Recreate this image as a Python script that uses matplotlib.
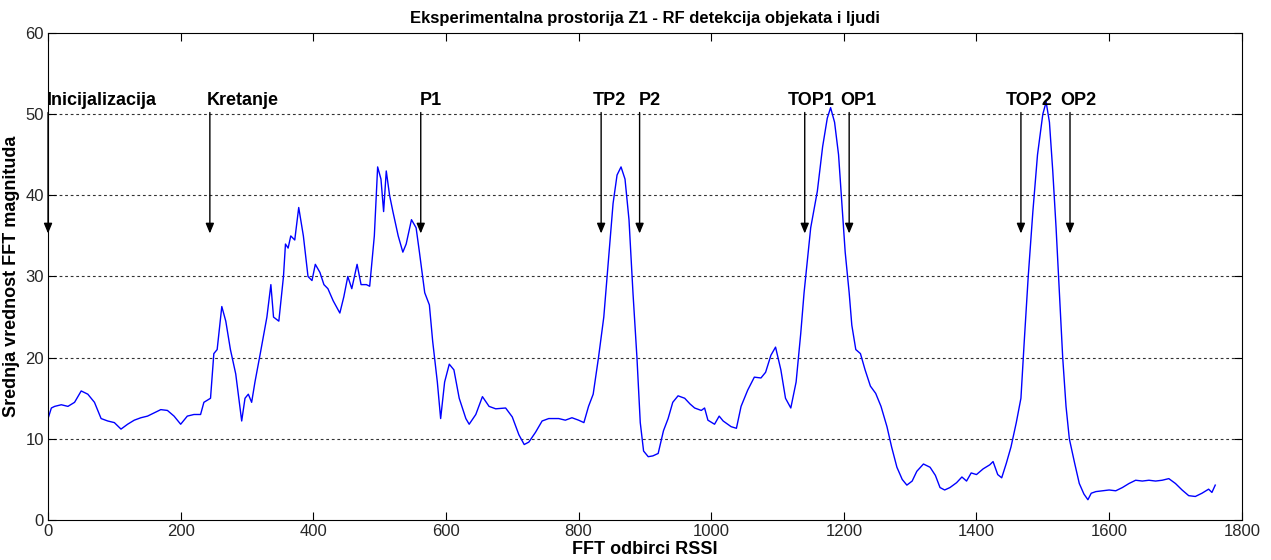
import matplotlib
matplotlib.use("Agg")
import matplotlib.pyplot as plt

# averaged FFT magnitude over RSSI sample index
sample_idx = [
    0, 5, 10, 20, 30, 40, 50, 60, 70, 80, 90, 100, 110, 120, 130, 140, 150, 160,
    170, 180, 190, 200, 210, 220, 230, 235, 245, 250, 255, 262, 268, 275, 283,
    292, 297, 302, 307, 312, 320, 330, 336, 340, 348, 355, 358, 362, 366, 372,
    378, 385, 392, 398, 403, 410, 416, 422, 430, 440, 446, 452, 458, 466, 472,
    480, 485, 492, 497, 502, 506, 510, 515, 520, 528, 535, 540, 548, 555, 560,
    568, 575, 580, 587, 592, 598, 605, 612, 620, 630, 635, 645, 655, 665, 675,
    690, 700, 710, 718, 725, 735, 745, 755, 770, 780, 790, 800, 808, 815, 822,
    830, 838, 845, 852, 858, 864, 870, 876, 882, 888, 893, 898, 905, 912, 920,
    928, 935, 942, 950, 960, 968, 975, 985, 990, 995, 1005, 1012, 1018, 1030,
    1038, 1045, 1055, 1065, 1075, 1082, 1090, 1097, 1105, 1112, 1120, 1128,
    1135, 1140, 1145, 1150, 1160, 1168, 1175, 1180, 1186, 1192, 1197, 1202,
    1208, 1212, 1218, 1225, 1232, 1240, 1248, 1256, 1265, 1272, 1280, 1288,
    1295, 1303, 1310, 1320, 1330, 1338, 1345, 1352, 1360, 1370, 1378, 1385,
    1392, 1400, 1410, 1420, 1425, 1432, 1438, 1445, 1452, 1460, 1467, 1472,
    1478, 1485, 1492, 1500, 1505, 1510, 1515, 1520, 1525, 1530, 1535, 1540,
    1548, 1555, 1562, 1568, 1573, 1580, 1590, 1600, 1610, 1620, 1630, 1640,
    1650, 1660, 1670, 1680, 1690, 1700, 1710, 1720, 1730, 1740, 1750, 1755, 1760,
]
magnitude = [
    12.5, 13.8, 14.0, 14.2, 14.0, 14.5, 15.9, 15.5, 14.5, 12.5, 12.2, 12.0, 11.2,
    11.8, 12.3, 12.6, 12.8, 13.2, 13.6, 13.5, 12.8, 11.8, 12.8, 13.0, 13.0, 14.5,
    15.0, 20.5, 21.0, 26.3, 24.5, 21.0, 18.0, 12.2, 15.0, 15.5, 14.5, 17.0, 20.5,
    25.0, 29.0, 25.0, 24.5, 30.0, 34.0, 33.5, 35.0, 34.5, 38.5, 35.0, 30.0, 29.5,
    31.5, 30.5, 29.0, 28.5, 27.0, 25.5, 27.5, 30.0, 28.5, 31.5, 29.0, 29.0, 28.8,
    35.0, 43.5, 42.0, 38.0, 43.0, 40.0, 38.0, 35.0, 33.0, 34.0, 37.0, 36.0, 33.0,
    28.0, 26.5, 22.0, 17.0, 12.5, 17.0, 19.2, 18.5, 15.0, 12.5, 11.8, 13.0, 15.2,
    14.0, 13.7, 13.8, 12.7, 10.5, 9.3, 9.6, 10.8, 12.2, 12.5, 12.5, 12.3, 12.6,
    12.3, 12.0, 14.0, 15.5, 20.0, 25.0, 32.0, 39.0, 42.5, 43.5, 42.0, 37.0, 28.0,
    20.0, 12.0, 8.5, 7.8, 7.9, 8.2, 11.0, 12.5, 14.5, 15.3, 15.0, 14.3, 13.8,
    13.5, 13.8, 12.3, 11.8, 12.8, 12.2, 11.5, 11.3, 14.0, 16.0, 17.6, 17.5, 18.2,
    20.3, 21.3, 18.5, 15.0, 13.8, 17.0, 23.0, 28.0, 32.0, 36.0, 40.5, 46.0, 49.5,
    50.8, 49.0, 45.0, 39.0, 33.0, 28.0, 24.0, 21.0, 20.5, 18.5, 16.5, 15.6, 14.0,
    11.5, 9.0, 6.5, 5.0, 4.3, 4.8, 6.0, 6.9, 6.5, 5.5, 4.0, 3.7, 4.0, 4.6, 5.3,
    4.8, 5.8, 5.6, 6.3, 6.8, 7.2, 5.6, 5.2, 7.0, 9.0, 12.0, 15.0, 22.0, 30.0,
    38.0, 45.0, 50.0, 51.5, 49.0, 43.0, 36.0, 28.0, 20.0, 14.0, 10.0, 7.0, 4.5,
    3.2, 2.5, 3.3, 3.5, 3.6, 3.7, 3.6, 4.0, 4.5, 4.9, 4.8, 4.9, 4.8, 4.9, 5.1,
    4.5, 3.7, 3.0, 2.9, 3.3, 3.8, 3.4, 4.3,
]

# event markers: label, arrow position, label start
event_labels = ["Inicijalizacija", "Kretanje", "P1", "TP2", "P2",
                "TOP1", "OP1", "TOP2", "OP2"]
event_x = [0, 244, 562, 834, 892, 1141, 1208, 1467, 1541]
label_x = [-2, 239, 560, 822, 891, 1116, 1194, 1444, 1526]

plt.rcParams['font.family'] = ['Liberation Sans Narrow', 'Liberation Sans', 'DejaVu Sans']

fig = plt.figure(figsize=(12.71, 5.6), dpi=100)
ax = fig.add_axes([0.0378, 0.0714, 0.9392, 0.8697])

ax.plot(sample_idx, magnitude, color='#0000ff', linewidth=1.0)

for y in range(10, 60, 10):
    ax.axhline(y, color='#333333', linestyle=(0, (2.5, 2.5)), linewidth=0.8, zorder=0)

for lab, xa, xl in zip(event_labels, event_x, label_x):
    ax.annotate('', xy=(xa, 35.3), xytext=(xa, 50.2),
                arrowprops=dict(arrowstyle='-|>,head_length=0.6,head_width=0.25',
                                color='black', linewidth=1.0, shrinkA=0, shrinkB=0))
    ax.text(xl, 51.7, lab, fontsize=13, fontweight='bold', ha='left', va='center')

ax.set_xlim(0, 1800)
ax.set_ylim(0, 60)
ax.set_xticks(range(0, 1801, 200))
ax.set_yticks(range(0, 61, 10))
ax.tick_params(direction='in', length=6, top=True, right=True, labelsize=12,
               labelcolor='#262626', pad=3)

ax.set_title('Eksperimentalna prostorija Z1 - RF detekcija objekata i ljudi',
             fontsize=12, fontweight='bold', pad=7)
ax.set_xlabel('FFT odbirci RSSI', fontsize=13, fontweight='bold', labelpad=1)
ax.set_ylabel('Srednja vrednost FFT magnituda', fontsize=13, fontweight='bold', labelpad=4)

fig.savefig('out.png', dpi=100)
